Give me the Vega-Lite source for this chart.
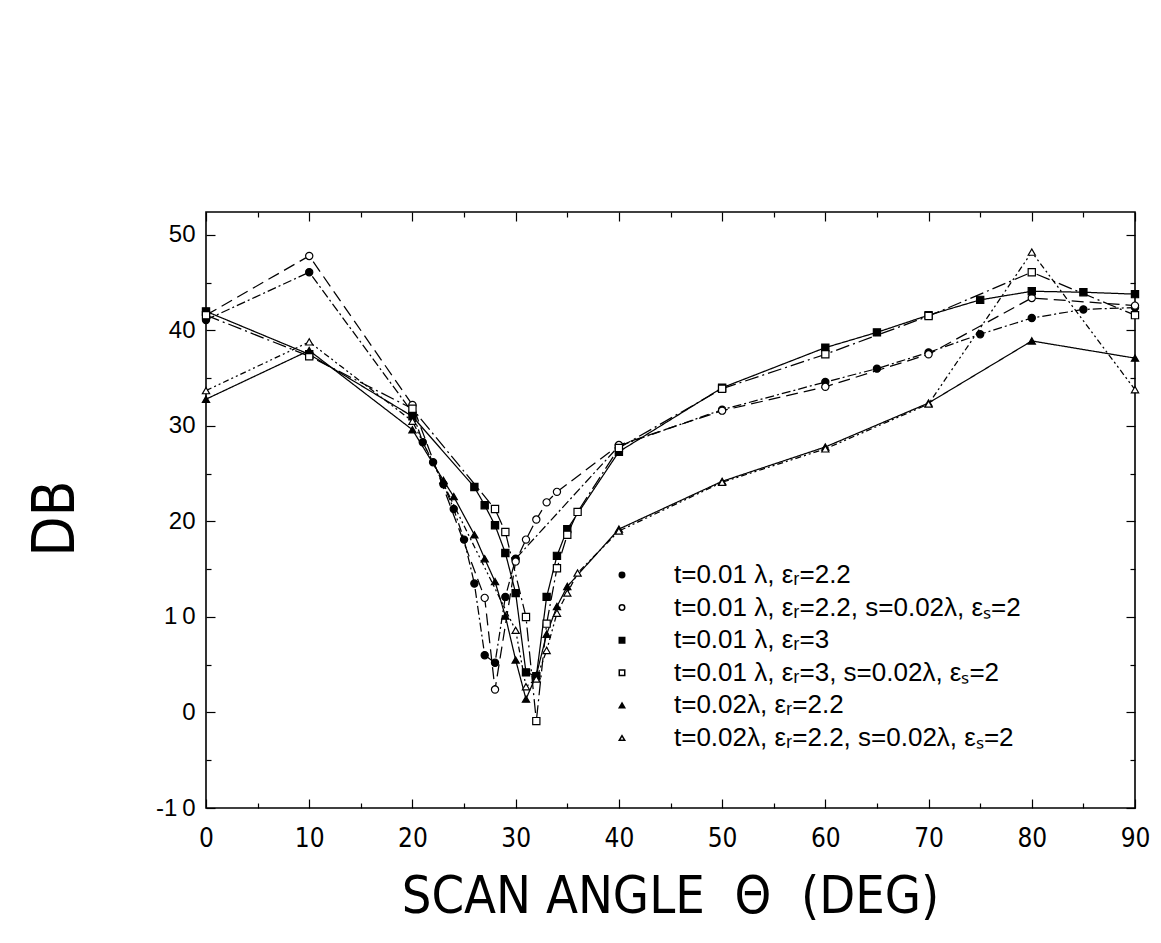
{
  "$schema": "https://vega.github.io/schema/vega-lite/v6.json",
  "autosize": "none",
  "width": 929,
  "height": 596,
  "padding": {"left": 206, "top": 212, "right": 26, "bottom": 135},
  "background": "white",
  "config": {
    "view": {"stroke": "black", "strokeWidth": 1.6},
    "axis": {"domain": false, "grid": false, "tickColor": "black", "labelColor": "black", "titleColor": "black", "labelFlush": false}
  },
  "datasets": {
    "pts": [
      {"s": "t=0.01 λ, εᵣ=2.2", "x": 0, "y": 41.1}, {"s": "t=0.01 λ, εᵣ=2.2", "x": 10, "y": 46.1}, {"s": "t=0.01 λ, εᵣ=2.2", "x": 20, "y": 31.4}, {"s": "t=0.01 λ, εᵣ=2.2", "x": 21, "y": 28.3}, {"s": "t=0.01 λ, εᵣ=2.2", "x": 22, "y": 26.2}, {"s": "t=0.01 λ, εᵣ=2.2", "x": 23, "y": 23.9}, {"s": "t=0.01 λ, εᵣ=2.2", "x": 24, "y": 21.3}, {"s": "t=0.01 λ, εᵣ=2.2", "x": 25, "y": 18.1}, {"s": "t=0.01 λ, εᵣ=2.2", "x": 26, "y": 13.5}, {"s": "t=0.01 λ, εᵣ=2.2", "x": 27, "y": 6.0}, {"s": "t=0.01 λ, εᵣ=2.2", "x": 28, "y": 5.2}, {"s": "t=0.01 λ, εᵣ=2.2", "x": 29, "y": 12.1}, {"s": "t=0.01 λ, εᵣ=2.2", "x": 30, "y": 16.1}, {"s": "t=0.01 λ, εᵣ=2.2", "x": 40, "y": 27.9}, {"s": "t=0.01 λ, εᵣ=2.2", "x": 50, "y": 31.7}, {"s": "t=0.01 λ, εᵣ=2.2", "x": 60, "y": 34.6}, {"s": "t=0.01 λ, εᵣ=2.2", "x": 65, "y": 36.0}, {"s": "t=0.01 λ, εᵣ=2.2", "x": 70, "y": 37.7}, {"s": "t=0.01 λ, εᵣ=2.2", "x": 75, "y": 39.6}, {"s": "t=0.01 λ, εᵣ=2.2", "x": 80, "y": 41.3}, {"s": "t=0.01 λ, εᵣ=2.2", "x": 85, "y": 42.2}, {"s": "t=0.01 λ, εᵣ=2.2", "x": 90, "y": 42.4},
      {"s": "t=0.01 λ, εᵣ=2.2, s=0.02λ, εₛ=2", "x": 0, "y": 41.6}, {"s": "t=0.01 λ, εᵣ=2.2, s=0.02λ, εₛ=2", "x": 10, "y": 47.8}, {"s": "t=0.01 λ, εᵣ=2.2, s=0.02λ, εₛ=2", "x": 20, "y": 32.2}, {"s": "t=0.01 λ, εᵣ=2.2, s=0.02λ, εₛ=2", "x": 27, "y": 12.0}, {"s": "t=0.01 λ, εᵣ=2.2, s=0.02λ, εₛ=2", "x": 28, "y": 2.4}, {"s": "t=0.01 λ, εᵣ=2.2, s=0.02λ, εₛ=2", "x": 30, "y": 15.8}, {"s": "t=0.01 λ, εᵣ=2.2, s=0.02λ, εₛ=2", "x": 31, "y": 18.1}, {"s": "t=0.01 λ, εᵣ=2.2, s=0.02λ, εₛ=2", "x": 32, "y": 20.2}, {"s": "t=0.01 λ, εᵣ=2.2, s=0.02λ, εₛ=2", "x": 33, "y": 22.0}, {"s": "t=0.01 λ, εᵣ=2.2, s=0.02λ, εₛ=2", "x": 34, "y": 23.1}, {"s": "t=0.01 λ, εᵣ=2.2, s=0.02λ, εₛ=2", "x": 40, "y": 28.0}, {"s": "t=0.01 λ, εᵣ=2.2, s=0.02λ, εₛ=2", "x": 50, "y": 31.6}, {"s": "t=0.01 λ, εᵣ=2.2, s=0.02λ, εₛ=2", "x": 60, "y": 34.1}, {"s": "t=0.01 λ, εᵣ=2.2, s=0.02λ, εₛ=2", "x": 70, "y": 37.5}, {"s": "t=0.01 λ, εᵣ=2.2, s=0.02λ, εₛ=2", "x": 80, "y": 43.4}, {"s": "t=0.01 λ, εᵣ=2.2, s=0.02λ, εₛ=2", "x": 90, "y": 42.6},
      {"s": "t=0.01 λ, εᵣ=3", "x": 0, "y": 42.0}, {"s": "t=0.01 λ, εᵣ=3", "x": 10, "y": 37.5}, {"s": "t=0.01 λ, εᵣ=3", "x": 20, "y": 31.0}, {"s": "t=0.01 λ, εᵣ=3", "x": 26, "y": 23.6}, {"s": "t=0.01 λ, εᵣ=3", "x": 27, "y": 21.7}, {"s": "t=0.01 λ, εᵣ=3", "x": 28, "y": 19.6}, {"s": "t=0.01 λ, εᵣ=3", "x": 29, "y": 16.7}, {"s": "t=0.01 λ, εᵣ=3", "x": 30, "y": 12.5}, {"s": "t=0.01 λ, εᵣ=3", "x": 31, "y": 4.2}, {"s": "t=0.01 λ, εᵣ=3", "x": 32, "y": 3.8}, {"s": "t=0.01 λ, εᵣ=3", "x": 33, "y": 12.1}, {"s": "t=0.01 λ, εᵣ=3", "x": 34, "y": 16.4}, {"s": "t=0.01 λ, εᵣ=3", "x": 35, "y": 19.2}, {"s": "t=0.01 λ, εᵣ=3", "x": 40, "y": 27.3}, {"s": "t=0.01 λ, εᵣ=3", "x": 50, "y": 34.0}, {"s": "t=0.01 λ, εᵣ=3", "x": 60, "y": 38.2}, {"s": "t=0.01 λ, εᵣ=3", "x": 65, "y": 39.8}, {"s": "t=0.01 λ, εᵣ=3", "x": 70, "y": 41.6}, {"s": "t=0.01 λ, εᵣ=3", "x": 75, "y": 43.2}, {"s": "t=0.01 λ, εᵣ=3", "x": 80, "y": 44.1}, {"s": "t=0.01 λ, εᵣ=3", "x": 85, "y": 44.0}, {"s": "t=0.01 λ, εᵣ=3", "x": 90, "y": 43.8},
      {"s": "t=0.01 λ, εᵣ=3, s=0.02λ, εₛ=2", "x": 0, "y": 41.6}, {"s": "t=0.01 λ, εᵣ=3, s=0.02λ, εₛ=2", "x": 10, "y": 37.3}, {"s": "t=0.01 λ, εᵣ=3, s=0.02λ, εₛ=2", "x": 20, "y": 31.8}, {"s": "t=0.01 λ, εᵣ=3, s=0.02λ, εₛ=2", "x": 28, "y": 21.3}, {"s": "t=0.01 λ, εᵣ=3, s=0.02λ, εₛ=2", "x": 29, "y": 18.9}, {"s": "t=0.01 λ, εᵣ=3, s=0.02λ, εₛ=2", "x": 31, "y": 10.0}, {"s": "t=0.01 λ, εᵣ=3, s=0.02λ, εₛ=2", "x": 32, "y": -0.9}, {"s": "t=0.01 λ, εᵣ=3, s=0.02λ, εₛ=2", "x": 33, "y": 9.3}, {"s": "t=0.01 λ, εᵣ=3, s=0.02λ, εₛ=2", "x": 34, "y": 15.1}, {"s": "t=0.01 λ, εᵣ=3, s=0.02λ, εₛ=2", "x": 35, "y": 18.6}, {"s": "t=0.01 λ, εᵣ=3, s=0.02λ, εₛ=2", "x": 36, "y": 21.0}, {"s": "t=0.01 λ, εᵣ=3, s=0.02λ, εₛ=2", "x": 40, "y": 27.7}, {"s": "t=0.01 λ, εᵣ=3, s=0.02λ, εₛ=2", "x": 50, "y": 33.9}, {"s": "t=0.01 λ, εᵣ=3, s=0.02λ, εₛ=2", "x": 60, "y": 37.5}, {"s": "t=0.01 λ, εᵣ=3, s=0.02λ, εₛ=2", "x": 70, "y": 41.5}, {"s": "t=0.01 λ, εᵣ=3, s=0.02λ, εₛ=2", "x": 80, "y": 46.1}, {"s": "t=0.01 λ, εᵣ=3, s=0.02λ, εₛ=2", "x": 90, "y": 41.6},
      {"s": "t=0.02λ, εᵣ=2.2", "x": 0, "y": 32.8}, {"s": "t=0.02λ, εᵣ=2.2", "x": 10, "y": 37.9}, {"s": "t=0.02λ, εᵣ=2.2", "x": 20, "y": 29.6}, {"s": "t=0.02λ, εᵣ=2.2", "x": 23, "y": 24.3}, {"s": "t=0.02λ, εᵣ=2.2", "x": 24, "y": 22.6}, {"s": "t=0.02λ, εᵣ=2.2", "x": 26, "y": 18.6}, {"s": "t=0.02λ, εᵣ=2.2", "x": 27, "y": 16.1}, {"s": "t=0.02λ, εᵣ=2.2", "x": 28, "y": 13.7}, {"s": "t=0.02λ, εᵣ=2.2", "x": 29, "y": 10.1}, {"s": "t=0.02λ, εᵣ=2.2", "x": 30, "y": 5.5}, {"s": "t=0.02λ, εᵣ=2.2", "x": 31, "y": 1.4}, {"s": "t=0.02λ, εᵣ=2.2", "x": 32, "y": 3.9}, {"s": "t=0.02λ, εᵣ=2.2", "x": 33, "y": 8.2}, {"s": "t=0.02λ, εᵣ=2.2", "x": 34, "y": 11.1}, {"s": "t=0.02λ, εᵣ=2.2", "x": 35, "y": 13.2}, {"s": "t=0.02λ, εᵣ=2.2", "x": 40, "y": 19.2}, {"s": "t=0.02λ, εᵣ=2.2", "x": 50, "y": 24.2}, {"s": "t=0.02λ, εᵣ=2.2", "x": 60, "y": 27.8}, {"s": "t=0.02λ, εᵣ=2.2", "x": 70, "y": 32.4}, {"s": "t=0.02λ, εᵣ=2.2", "x": 80, "y": 38.9}, {"s": "t=0.02λ, εᵣ=2.2", "x": 90, "y": 37.1},
      {"s": "t=0.02λ, εᵣ=2.2, s=0.02λ, εₛ=2", "x": 0, "y": 33.7}, {"s": "t=0.02λ, εᵣ=2.2, s=0.02λ, εₛ=2", "x": 10, "y": 38.8}, {"s": "t=0.02λ, εᵣ=2.2, s=0.02λ, εₛ=2", "x": 20, "y": 30.5}, {"s": "t=0.02λ, εᵣ=2.2, s=0.02λ, εₛ=2", "x": 30, "y": 8.6}, {"s": "t=0.02λ, εᵣ=2.2, s=0.02λ, εₛ=2", "x": 31, "y": 2.7}, {"s": "t=0.02λ, εᵣ=2.2, s=0.02λ, εₛ=2", "x": 32, "y": 3.5}, {"s": "t=0.02λ, εᵣ=2.2, s=0.02λ, εₛ=2", "x": 33, "y": 6.5}, {"s": "t=0.02λ, εᵣ=2.2, s=0.02λ, εₛ=2", "x": 34, "y": 10.4}, {"s": "t=0.02λ, εᵣ=2.2, s=0.02λ, εₛ=2", "x": 35, "y": 12.5}, {"s": "t=0.02λ, εᵣ=2.2, s=0.02λ, εₛ=2", "x": 36, "y": 14.6}, {"s": "t=0.02λ, εᵣ=2.2, s=0.02λ, εₛ=2", "x": 40, "y": 19.0}, {"s": "t=0.02λ, εᵣ=2.2, s=0.02λ, εₛ=2", "x": 50, "y": 24.1}, {"s": "t=0.02λ, εᵣ=2.2, s=0.02λ, εₛ=2", "x": 60, "y": 27.6}, {"s": "t=0.02λ, εᵣ=2.2, s=0.02λ, εₛ=2", "x": 70, "y": 32.3}, {"s": "t=0.02λ, εᵣ=2.2, s=0.02λ, εₛ=2", "x": 80, "y": 48.2}, {"s": "t=0.02λ, εᵣ=2.2, s=0.02λ, εₛ=2", "x": 90, "y": 33.8}
    ]
  },
  "data": {"name": "pts"},
  "layer": [
    {
      "mark": {"type": "line", "color": "black", "strokeWidth": 1.25},
      "encoding": {
        "x": {"field": "x", "type": "quantitative", "scale": {"domain": [0, 90], "nice": false, "zero": false},
          "axis": {"orient": "bottom", "title": "SCAN ANGLE\u00a0\u00a0Θ\u00a0\u00a0(DEG)", "values": [0,5,10,15,20,25,30,35,40,45,50,55,60,65,70,75,80,85,90],
            "labelExpr": "datum.value % 10 === 0 ? datum.label : ''",
            "tickSize": {"condition": {"test": "datum.value % 10 === 0", "value": -9}, "value": -5}, "tickWidth": 1.2,
            "labelFont": "Liberation Sans Narrow, DejaVu Sans Condensed, Liberation Sans", "labelFontSize": 26, "labelPadding": 26,
            "titleFont": "Liberation Sans Narrow, DejaVu Sans Condensed, Liberation Sans", "titleFontSize": 52, "titleFontWeight": "normal",
            "titleX": 464, "titleY": 88, "titleBaseline": "middle", "titleAlign": "center"}},
        "y": {"field": "y", "type": "quantitative", "scale": {"domain": [-10, 52.4], "nice": false, "zero": false},
          "axis": {"orient": "left", "title": "DB", "values": [-10,-5,0,5,10,15,20,25,30,35,40,45,50],
            "labelExpr": "datum.value === 10 ? '1\u20090' : datum.value === -10 ? '-1\u20090' : datum.value % 10 === 0 ? datum.label : ''",
            "tickSize": {"condition": {"test": "datum.value % 10 === 0", "value": -9}, "value": -5}, "tickWidth": 1.2,
            "labelFont": "Liberation Sans", "labelFontSize": 24, "labelPadding": 20,
            "titleFont": "Liberation Sans Narrow, DejaVu Sans Condensed, Liberation Sans", "titleFontSize": 58, "titleFontWeight": "normal",
            "titleAngle": 270, "titleX": -150, "titleY": 306, "titleBaseline": "middle", "titleAlign": "center"}},
        "detail": {"field": "s"},
        "strokeDash": {"field": "s", "type": "nominal", "legend": null, "sort": "ascending",
          "scale": {"range": [[9, 3, 2, 3], [12, 6], [1, 0], [14, 4, 2, 4], [1, 0], [6, 3, 2, 3, 2, 3]]}},
        "order": {"field": "x", "type": "quantitative"}
      }
    },
    {
      "mark": {"type": "point", "stroke": "black", "strokeWidth": 1.2, "opacity": 1, "size": 52},
      "encoding": {
        "x": {"field": "x", "type": "quantitative",
          "axis": {"orient": "top", "title": null, "labels": false, "values": [0,5,10,15,20,25,30,35,40,45,50,55,60,65,70,75,80,85,90],
            "tickSize": {"condition": {"test": "datum.value % 10 === 0", "value": -9}, "value": -5}, "tickWidth": 1.2}},
        "y": {"field": "y", "type": "quantitative",
          "axis": {"orient": "right", "title": null, "labels": false, "values": [-10,-5,0,5,10,15,20,25,30,35,40,45,50],
            "tickSize": {"condition": {"test": "datum.value % 10 === 0", "value": -9}, "value": -5}, "tickWidth": 1.2}},
        "shape": {"field": "s", "type": "nominal",
          "scale": {"domain": ["t=0.01 λ, εᵣ=2.2", "t=0.01 λ, εᵣ=2.2, s=0.02λ, εₛ=2", "t=0.01 λ, εᵣ=3", "t=0.01 λ, εᵣ=3, s=0.02λ, εₛ=2", "t=0.02λ, εᵣ=2.2", "t=0.02λ, εᵣ=2.2, s=0.02λ, εₛ=2"],
            "range": ["circle", "circle", "square", "square", "triangle-up", "triangle-up"]},
          "legend": {"title": null, "orient": "none", "legendX": 403, "legendY": 350, "padding": 0, "labelFont": "Liberation Sans", "labelFontSize": 26, "labelColor": "black", "labelOffset": 39, "rowPadding": 6.6, "symbolSize": 30, "labelLimit": 800,
            "encode": {"symbols": {"update": {"stroke": {"value": "black"}, "strokeWidth": {"value": 1}}}}}},
        "fill": {"field": "s", "type": "nominal",
          "scale": {"domain": ["t=0.01 λ, εᵣ=2.2", "t=0.01 λ, εᵣ=2.2, s=0.02λ, εₛ=2", "t=0.01 λ, εᵣ=3", "t=0.01 λ, εᵣ=3, s=0.02λ, εₛ=2", "t=0.02λ, εᵣ=2.2", "t=0.02λ, εᵣ=2.2, s=0.02λ, εₛ=2"],
            "range": ["black", "white", "black", "white", "black", "white"]},
          "legend": {"title": null, "orient": "none", "legendX": 403, "legendY": 350, "padding": 0, "labelFont": "Liberation Sans", "labelFontSize": 26, "labelColor": "black", "labelOffset": 39, "rowPadding": 6.6, "symbolSize": 30, "labelLimit": 800,
            "encode": {"symbols": {"update": {"stroke": {"value": "black"}, "strokeWidth": {"value": 1}}}}}}
      }
    }
  ],
  "resolve": {"axis": {"x": "independent", "y": "independent"}}
}
